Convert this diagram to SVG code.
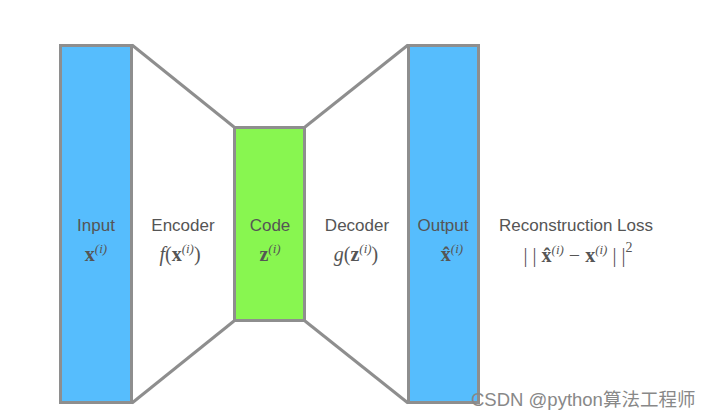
<svg xmlns="http://www.w3.org/2000/svg" width="715" height="418" viewBox="0 0 715 418">
<style>
.box{stroke:#8e8e8e;stroke-width:3}
.blue{fill:#56bdfd}
.green{fill:#88f650}
.edge{stroke:#8e8e8e;stroke-width:3;fill:none}
.lbl{font-family:"Liberation Sans",Arial,sans-serif;font-size:17px;fill:#555;text-anchor:middle}
.math{font-family:"Liberation Serif","Times New Roman",serif;font-size:20px;fill:#555;text-anchor:middle}
.b{font-weight:bold}
.sup{font-style:italic;font-size:13px}
.it{font-style:italic}
.wm{font-family:"Liberation Sans",Arial,"Noto Sans CJK SC",sans-serif;font-size:18.5px;fill:#888}
</style>
<rect width="715" height="418" fill="#fff"/>
<g id="connectors">
<line class="edge" x1="132" y1="45" x2="234" y2="127"/>
<line class="edge" x1="132" y1="403" x2="234" y2="321"/>
<line class="edge" x1="305" y1="127" x2="408" y2="45"/>
<line class="edge" x1="305" y1="321" x2="408" y2="403"/>
</g>
<g id="input">
<rect class="box blue" x="60.5" y="45.5" width="71" height="357"/>
<text class="lbl" x="96" y="231">Input</text>
<text class="math" x="96" y="261"><tspan class="b">x</tspan><tspan class="sup" dy="-8">(i)</tspan></text>
</g>
<g id="encoder">
<text class="lbl" x="183" y="231">Encoder</text>
<text class="math" x="180" y="261"><tspan class="it">f</tspan>(<tspan class="b">x</tspan><tspan class="sup" dy="-8">(i)</tspan><tspan dy="8">)</tspan></text>
</g>
<g id="code">
<rect class="box green" x="234.5" y="127.5" width="70" height="193"/>
<text class="lbl" x="270" y="231">Code</text>
<text class="math" x="270" y="261"><tspan class="b">z</tspan><tspan class="sup" dy="-8">(i)</tspan></text>
</g>
<g id="decoder">
<text class="lbl" x="357" y="231">Decoder</text>
<text class="math" x="356" y="261"><tspan class="it">g</tspan>(<tspan class="b">z</tspan><tspan class="sup" dy="-8">(i)</tspan><tspan dy="8">)</tspan></text>
</g>
<g id="output">
<rect class="box blue" x="408.5" y="45.5" width="70" height="357"/>
<text class="lbl" x="443" y="231">Output</text>
<text class="math" x="452" y="261"><tspan class="b">x̂</tspan><tspan class="sup" dy="-8">(i)</tspan></text>
</g>
<g id="loss">
<text class="lbl" x="576" y="231">Reconstruction Loss</text>
<text class="math" x="578" y="262">| | <tspan class="b">x̂</tspan><tspan class="sup" dy="-8">(i)</tspan><tspan dy="8"> − </tspan><tspan class="b">x</tspan><tspan class="sup" dy="-8">(i)</tspan><tspan dy="8"> | |</tspan><tspan font-size="14" dy="-10">2</tspan></text>
</g>
<text class="wm" x="471" y="406">CSDN @python算法工程师</text>
</svg>
